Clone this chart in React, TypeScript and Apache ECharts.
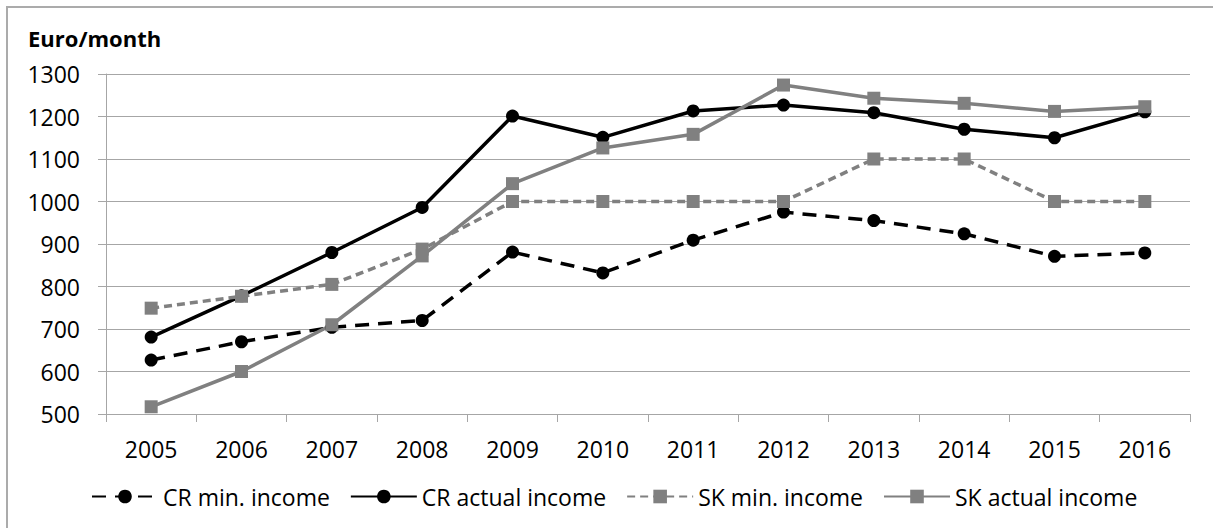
import React, { useEffect, useRef } from "react";
import * as echarts from "echarts";

const years = ["2005", "2006", "2007", "2008", "2009", "2010", "2011", "2012", "2013", "2014", "2015", "2016"];
const crMin = [627, 670, 704, 720, 881, 832, 909, 975, 955, 924, 871, 879];
const crActual = [681, 778, 880, 986, 1201, 1151, 1213, 1227, 1209, 1170, 1150, 1211];
const skMin = [749, 777, 805, 888, 1000, 1000, 1000, 1000, 1100, 1100, 1000, 1000];
const skActual = [517, 600, 710, 872, 1042, 1126, 1158, 1274, 1243, 1231, 1212, 1223];
const seriesNames = ["CR min. income", "CR actual income", "SK min. income", "SK actual income"];

const FONT = "'Open Sans', 'Liberation Sans', sans-serif";

export default function App() {
  const ref = useRef<HTMLDivElement>(null);
  useEffect(() => {
    if (!ref.current) return;
    const chart = echarts.init(ref.current, null, { renderer: "svg" });
    const mk = (name: string, data: number[], color: string, symbol: string, type: any, width: number) => ({
      name,
      type: "line",
      data,
      symbol,
      symbolSize: 13,
      showSymbol: true,
      itemStyle: { color, borderWidth: 0 },
      lineStyle: { color, width, type },
      emphasis: { disabled: true },
    });
    chart.setOption({
      animation: false,
      textStyle: { fontFamily: FONT },
      graphic: [
        {
          type: "polyline",
          shape: { points: [[7, 600], [7, 7], [1260, 7]] },
          style: { fill: "none", stroke: "#ababab", lineWidth: 2 },
        },
        {
          type: "text",
          x: 28,
          y: 38,
          style: {
            text: "Euro/month",
            font: `bold 22px ${FONT}`,
            fill: "#000",
            textVerticalAlign: "middle",
          },
        },
      ],
      grid: { left: 106, right: 23, top: 74, bottom: 114, containLabel: false },
      legend: {
        left: 86,
        top: 480,
        itemWidth: 66,
        itemHeight: 17,
        itemGap: 20,
        textStyle: { fontSize: 23, color: "#000", fontFamily: FONT },
        data: seriesNames,
      },
      xAxis: {
        type: "category",
        data: years,
        boundaryGap: true,
        axisLine: { lineStyle: { color: "#a6a6a6", width: 1 } },
        axisTick: { show: true, length: 8, interval: 0, lineStyle: { color: "#a6a6a6" } },
        axisLabel: { color: "#000", fontSize: 23, margin: 23, interval: 0, fontFamily: FONT },
        splitLine: { show: false },
      },
      yAxis: {
        type: "value",
        min: 500,
        max: 1300,
        interval: 100,
        axisLine: { show: true, lineStyle: { color: "#a6a6a6", width: 1 } },
        axisTick: { show: true, length: 8, lineStyle: { color: "#a6a6a6" } },
        axisLabel: {
          color: "#000",
          fontSize: 23,
          margin: 26,
          fontFamily: FONT,
          formatter: (v: number) => String(v),
        },
        splitLine: { show: true, lineStyle: { color: "#a6a6a6", width: 1 } },
      },
      series: [
        mk(seriesNames[0], crMin, "#000000", "circle", [14, 9], 3.5),
        mk(seriesNames[1], crActual, "#000000", "circle", "solid", 3.5),
        mk(seriesNames[2], skMin, "#808080", "rect", [8, 5], 3.5),
        mk(seriesNames[3], skActual, "#808080", "rect", "solid", 3.5),
      ],
    });
    return () => chart.dispose();
  }, []);
  return (
    <div
      ref={ref}
      style={{ position: "fixed", left: 0, top: 0, width: 1213, height: 528, background: "#fff" }}
    />
  );
}
